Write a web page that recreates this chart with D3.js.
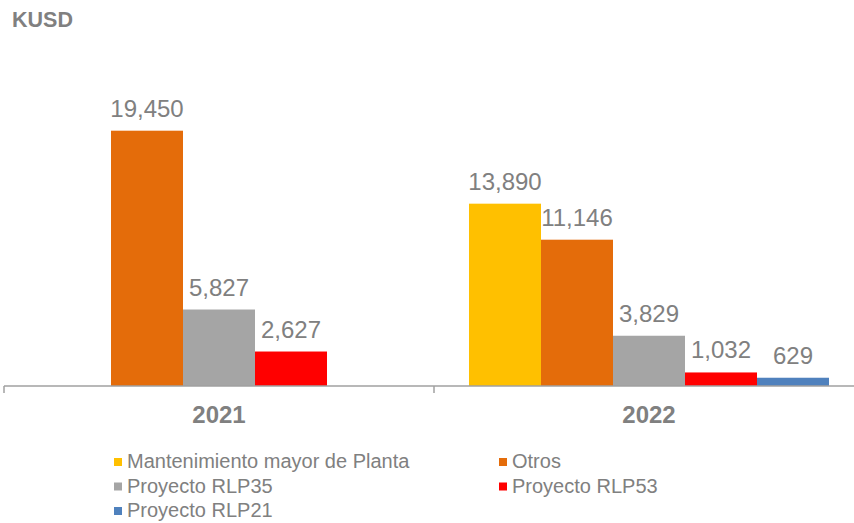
<!DOCTYPE html>
<html>
<head>
<meta charset="utf-8">
<script src="https://cdn.jsdelivr.net/npm/d3@7"></script>
<style>
  body { margin: 0; background: #fff; }
  svg text { font-family: "Liberation Sans", Arial, sans-serif; }
</style>
</head>
<body>
<div class="chart"></div>
<script>
var width = 854,
    height = 523;

// data
var years = ["2021", "2022"];
var series = ["Mantenimiento mayor de Planta", "Otros", "Proyecto RLP35", "Proyecto RLP53", "Proyecto RLP21"];
var colors = ["#FFC000", "#E46C0A", "#A5A5A5", "#FF0000", "#4F81BD"];
var values2021 = [null, 19450, 5827, 2627, null];
var values2022 = [13890, 11146, 3829, 1032, 629];
var valuesByYear = [values2021, values2022];

var baseY = 386;

var svg = d3.select(".chart")
    .append("svg")
    .attr("width", width)
    .attr("height", height);

// scales
var x0 = d3.scaleBand()
    .domain(years)
    .range([4, 864]);

var x1 = d3.scaleBand()
    .domain(series)
    .range([0, x0.bandwidth()])
    .paddingInner(0)
    .paddingOuter(0.486);

var y = d3.scaleLinear()
    .domain([0, 19450])
    .range([baseY, 130.7]);

var fmt = d3.format(",");

// unit label
svg.append("text")
    .attr("x", 12)
    .attr("y", 27)
    .attr("font-size", 21.5)
    .attr("font-weight", "bold")
    .attr("fill", "#808080")
    .text("KUSD");

// bars
var groups = svg.selectAll("g.year")
    .data(years)
    .enter()
    .append("g")
    .attr("class", "year")
    .attr("transform", d => "translate(" + x0(d) + ",0)");

var barData = function(yr, i) {
    return series.map((s, k) => ({series: s, value: valuesByYear[i][k], color: colors[k]}))
        .filter(d => d.value != null);
};

groups.selectAll("rect")
    .data(barData)
    .enter()
    .append("rect")
    .attr("x", d => x1(d.series))
    .attr("y", d => y(d.value))
    .attr("width", x1.bandwidth())
    .attr("height", d => baseY - y(d.value))
    .attr("fill", d => d.color);

groups.selectAll("text.val")
    .data(barData)
    .enter()
    .append("text")
    .attr("class", "val")
    .attr("x", d => x1(d.series) + x1.bandwidth() / 2)
    .attr("y", d => y(d.value) - 14)
    .attr("text-anchor", "middle")
    .attr("font-size", 24)
    .attr("fill", "#808080")
    .text(d => fmt(d.value));

// axis
var axis = svg.append("g")
    .attr("transform", "translate(0," + baseY + ")");
axis.append("line")
    .attr("x1", 4).attr("x2", 864)
    .attr("stroke", "#a0a0a0").attr("stroke-width", 1.5);
axis.selectAll("line.tick")
    .data(x0.range().concat([x0("2022")]))
    .enter()
    .append("line")
    .attr("class", "tick")
    .attr("x1", d => d).attr("x2", d => d)
    .attr("y1", 0).attr("y2", 7)
    .attr("stroke", "#a0a0a0").attr("stroke-width", 1.5);
axis.selectAll("text")
    .data(years)
    .enter()
    .append("text")
    .attr("x", d => x0(d) + x0.bandwidth() / 2)
    .attr("y", 37)
    .attr("text-anchor", "middle")
    .attr("font-size", 24)
    .attr("font-weight", "bold")
    .attr("fill", "#808080")
    .text(d => d);

// legend
var legend = svg.selectAll("g.legend")
    .data(series)
    .enter()
    .append("g")
    .attr("class", "legend")
    .attr("transform", (d, i) => "translate(" + (i % 2 == 0 ? 114 : 499) + "," + (468 + Math.floor(i / 2) * 24.5) + ")");

legend.append("rect")
    .attr("x", 0)
    .attr("y", -10)
    .attr("width", 8)
    .attr("height", 8)
    .attr("fill", (d, i) => colors[i]);

legend.append("text")
    .attr("x", 13)
    .attr("y", 0)
    .attr("font-size", 20)
    .attr("fill", "#808080")
    .text(d => d);
</script>
</body>
</html>
